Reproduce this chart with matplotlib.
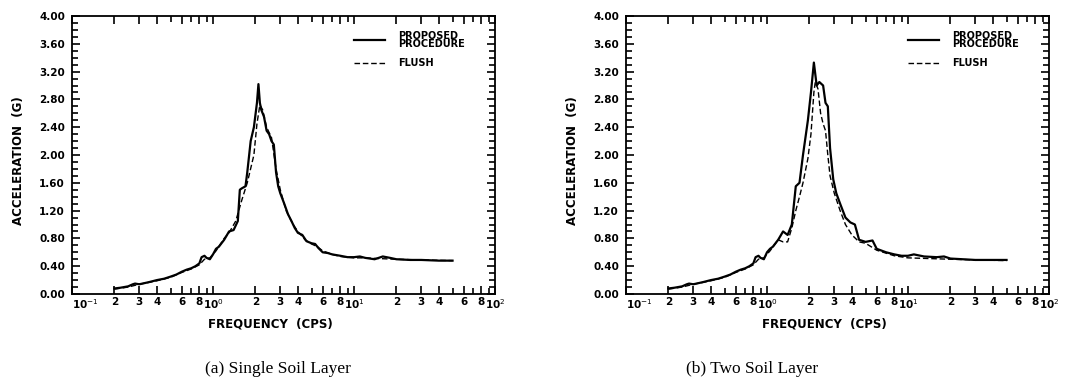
import matplotlib
matplotlib.use("Agg")
import matplotlib.pyplot as plt
from matplotlib.ticker import FixedLocator, MultipleLocator, FuncFormatter, NullFormatter
from matplotlib.lines import Line2D

# ---------------- data ----------------
freq_a_solid = [0.2, 0.22, 0.25, 0.27, 0.28, 0.3, 0.35, 0.4, 0.45, 0.5, 0.55, 0.6, 0.65, 0.7, 0.75,
                0.8, 0.83, 0.87, 0.9, 0.95, 1.0, 1.05, 1.1, 1.2, 1.3, 1.4, 1.5, 1.55, 1.6, 1.7, 1.75,
                1.85, 1.95, 2.05, 2.1, 2.15, 2.2, 2.3, 2.4, 2.5, 2.6, 2.7, 2.8, 2.9, 3.0, 3.2, 3.4,
                3.6, 3.8, 4.0, 4.3, 4.6, 5.0, 5.3, 5.6, 6.0, 6.5, 7.0, 8.0, 9.0, 10, 11, 12, 14, 16,
                18, 20, 25, 30, 40, 50]
acc_a_solid = [0.08, 0.09, 0.11, 0.14, 0.15, 0.14, 0.17, 0.20, 0.22, 0.25, 0.28, 0.32, 0.35, 0.37, 0.40,
               0.44, 0.53, 0.55, 0.52, 0.50, 0.57, 0.65, 0.68, 0.78, 0.90, 0.92, 1.05, 1.50, 1.52, 1.55, 1.75,
               2.20, 2.40, 2.75, 3.02, 2.75, 2.65, 2.55, 2.35, 2.30, 2.20, 2.15, 1.75, 1.55, 1.45, 1.30, 1.15,
               1.05, 0.95, 0.88, 0.85, 0.76, 0.73, 0.72, 0.66, 0.60, 0.59, 0.57, 0.55, 0.53, 0.53, 0.54, 0.52, 0.50, 0.54,
               0.52, 0.50, 0.49, 0.49, 0.48, 0.48]

freq_a_dash = [0.2, 0.25, 0.3, 0.4, 0.5, 0.6, 0.7, 0.8, 0.87, 0.95, 1.05, 1.2, 1.3, 1.45, 1.6, 1.75,
               1.95, 2.05, 2.15, 2.25, 2.4, 2.6, 2.8, 3.0, 3.3, 3.7, 4.0, 4.5, 5.0, 5.5, 6.0, 7.0, 8.0,
               10, 12, 15, 20, 30, 50]
acc_a_dash = [0.07, 0.10, 0.14, 0.19, 0.24, 0.31, 0.36, 0.42, 0.50, 0.52, 0.62, 0.80, 0.88, 1.05, 1.35, 1.60,
              2.00, 2.45, 2.72, 2.65, 2.40, 2.25, 1.80, 1.50, 1.20, 1.00, 0.90, 0.78, 0.72, 0.68, 0.62, 0.57, 0.54,
              0.52, 0.52, 0.51, 0.50, 0.49, 0.48]

freq_b_solid = [0.2, 0.22, 0.25, 0.27, 0.28, 0.3, 0.35, 0.4, 0.45, 0.5, 0.55, 0.6, 0.65, 0.7, 0.75,
                0.8, 0.83, 0.87, 0.9, 0.95, 1.0, 1.05, 1.1, 1.2, 1.3, 1.4, 1.5, 1.6, 1.7, 1.8, 1.95,
                2.05, 2.15, 2.25, 2.35, 2.5, 2.6, 2.7, 2.8, 2.95, 3.1, 3.3, 3.6, 3.9, 4.2, 4.5, 5.0,
                5.6, 6.0, 7.0, 8.0, 9.0, 10, 11, 13, 16, 18, 20, 30, 50]
acc_b_solid = [0.08, 0.09, 0.11, 0.14, 0.15, 0.14, 0.17, 0.20, 0.22, 0.25, 0.28, 0.32, 0.35, 0.37, 0.40,
               0.44, 0.53, 0.55, 0.52, 0.50, 0.60, 0.65, 0.68, 0.78, 0.90, 0.85, 1.00, 1.55, 1.60, 2.00, 2.50,
               2.90, 3.33, 3.00, 3.05, 3.00, 2.75, 2.70, 2.10, 1.65, 1.45, 1.30, 1.10, 1.03, 1.00, 0.78, 0.75,
               0.77, 0.65, 0.60, 0.57, 0.55, 0.55, 0.57, 0.54, 0.53, 0.54, 0.51, 0.49, 0.49]

freq_b_dash = [0.2, 0.25, 0.3, 0.4, 0.5, 0.6, 0.7, 0.8, 0.87, 0.95, 1.05, 1.2, 1.3, 1.4, 1.5, 1.6,
               1.7, 1.8, 1.95, 2.05, 2.15, 2.2, 2.3, 2.4, 2.5, 2.6, 2.7, 2.8, 3.0, 3.3, 3.6, 4.0, 4.5,
               5.0, 6.0, 8.0, 10, 20, 50]
acc_b_dash = [0.07, 0.10, 0.14, 0.19, 0.24, 0.31, 0.36, 0.42, 0.50, 0.52, 0.62, 0.78, 0.75, 0.75, 0.95, 1.20,
              1.40, 1.60, 1.95, 2.30, 2.90, 3.05, 2.95, 2.60, 2.45, 2.35, 2.00, 1.70, 1.45, 1.20, 1.00, 0.85, 0.75,
              0.73, 0.63, 0.55, 0.52, 0.50, 0.48]

captions = ["(a) Single Soil Layer", "(b) Two Soil Layer"]
panels = [(freq_a_solid, acc_a_solid, freq_a_dash, acc_a_dash),
          (freq_b_solid, acc_b_solid, freq_b_dash, acc_b_dash)]

x_label_values = [0.1, 0.2, 0.3, 0.4, 0.6, 0.8, 1, 2, 3, 4, 6, 8, 10, 20, 30, 40, 60, 80, 100]
x_label_texts = [r"10$^{-1}$", "2", "3", "4", "6", "8", r"10$^{0}$", "2", "3", "4", "6", "8",
                 r"10$^{1}$", "2", "3", "4", "6", "8", r"10$^{2}$"]
x_minor_values = [5, 7, 9]

# ---------------- figure ----------------
fig = plt.figure(figsize=(10.66, 3.87), dpi=100)
tick_font = dict(family="DejaVu Sans", weight="bold", size=7)
axis_label_font = dict(family="DejaVu Sans", weight="bold", size=8.5)

ax_lefts = [72 / 1066, 626 / 1066]
ax_w = 423 / 1066
ax_b = 1 - 294 / 387
ax_h = 278 / 387

for i, (fs, as_, fd, ad) in enumerate(panels):
    ax = fig.add_axes([ax_lefts[i], ax_b, ax_w, ax_h])
    ax.plot(fs, as_, color="black", lw=1.6)
    ax.plot(fd, ad, color="black", lw=1.0, ls=(0, (4, 2)))
    ax.set_xscale("log")
    ax.set_xlim(0.1, 100)
    ax.set_ylim(0, 4)

    ax.set_xticks(x_label_values)
    ax.set_xticklabels(x_label_texts)
    minor = []
    for d in [0.1, 1, 10]:
        for m in x_minor_values:
            minor.append(m * d)
    ax.xaxis.set_minor_locator(FixedLocator(minor))
    ax.xaxis.set_minor_formatter(NullFormatter())

    ax.yaxis.set_major_locator(MultipleLocator(0.4))
    ax.yaxis.set_minor_locator(MultipleLocator(0.1))
    ax.yaxis.set_major_formatter(FuncFormatter(lambda v, p: f"{v:.2f}"))

    ax.tick_params(which="both", direction="in", top=True, right=True, width=1.2, color="black")
    ax.tick_params(which="major", length=6)
    ax.tick_params(axis="x", which="major", pad=2)
    ax.tick_params(axis="y", which="major", pad=5)
    ax.tick_params(which="minor", length=4)
    xlabs = ax.get_xticklabels()
    for lab in xlabs + ax.get_yticklabels():
        lab.set_fontfamily("DejaVu Sans")
        lab.set_fontweight("bold")
        lab.set_fontsize(7.5)
    xlabs[0].set_horizontalalignment("left")
    for s in ax.spines.values():
        s.set_linewidth(1.3)

    ax.set_ylabel("ACCELERATION  (G)", fontdict=axis_label_font)
    ax.yaxis.set_label_coords(-0.11, 0.48)
    ax.set_xlabel("FREQUENCY  (CPS)", fontdict=axis_label_font)
    ax.xaxis.set_label_coords(0.47, -0.085)

    # legend drawn in axes coordinates
    ax.add_line(Line2D([0.667, 0.74], [0.914, 0.914], transform=ax.transAxes, color="black", lw=1.6))
    ax.add_line(Line2D([0.667, 0.74], [0.83, 0.83], transform=ax.transAxes, color="black", lw=1.0,
                       ls=(0, (4, 2))))
    ax.text(0.77, 0.914, "PROPOSED\nPROCEDURE", transform=ax.transAxes, ha="left", va="center",
            linespacing=0.75, **tick_font)
    ax.text(0.77, 0.83, "FLUSH", transform=ax.transAxes, ha="left", va="center", **tick_font)

cap_x = [278 / 1066, 752 / 1066]
for i, c in enumerate(captions):
    fig.text(cap_x[i], 1 - 369 / 387, c, ha="center", va="center", family="Liberation Serif", size=12.5)

fig.savefig("out.png", dpi=100)
